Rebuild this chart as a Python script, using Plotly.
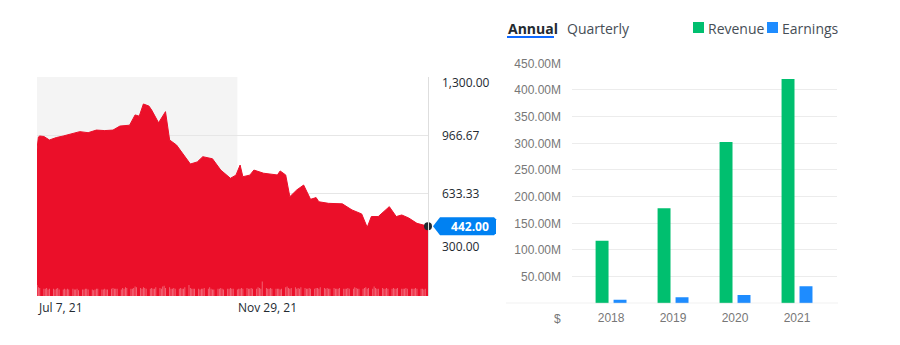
import plotly.graph_objects as go
import pandas as pd

# ---------------- data: price chart ----------------
price_dates = ["2021-07-07", "2021-07-08", "2021-07-09", "2021-07-12", "2021-07-16", "2021-07-21",
               "2021-07-26", "2021-07-31", "2021-08-07", "2021-08-13", "2021-08-19", "2021-08-25",
               "2021-08-31", "2021-09-05", "2021-09-12", "2021-09-16", "2021-09-19", "2021-09-22",
               "2021-09-26", "2021-09-28", "2021-10-03", "2021-10-08", "2021-10-11", "2021-10-16",
               "2021-10-22", "2021-10-26", "2021-10-31", "2021-11-04", "2021-11-11", "2021-11-17",
               "2021-11-24", "2021-11-28", "2021-12-01", "2021-12-03", "2021-12-08", "2021-12-11",
               "2021-12-18", "2021-12-28", "2021-12-30", "2022-01-03", "2022-01-06", "2022-01-11",
               "2022-01-16", "2022-01-21", "2022-01-25", "2022-01-27", "2022-02-03", "2022-02-13",
               "2022-02-20", "2022-02-27", "2022-03-03", "2022-03-06", "2022-03-11", "2022-03-19",
               "2022-03-24", "2022-03-28", "2022-04-02", "2022-04-08", "2022-04-16"]
prices = [885, 955, 961, 958, 938, 952, 961, 970, 986, 980,
          995, 992, 995, 1018, 1023, 1082, 1075, 1145, 1133, 1110,
          1037, 1101, 938, 909, 842, 800, 812, 842, 830, 765,
          718, 736, 794, 727, 736, 765, 747, 737, 760, 737,
          612, 651, 679, 597, 607, 583, 574, 571, 536, 513,
          436, 498, 498, 555, 498, 507, 490, 459, 442]

volume_start = "2021-07-07"
volume = [1.5, 1.2, 1.1, 1.0, 1.0, 1.1, 0.9, 1.0, 1.0, 0.9, 1.0, 1.1, 0.9, 0.9, 1.0, 0.9, 1.0, 0.9,
          1.0, 0.9, 0.9, 1.0, 0.8, 0.9, 0.9, 1.0, 1.0, 0.9, 0.9, 0.8, 0.9, 1.0, 1.0, 0.9, 0.9, 1.0, 0.9, 0.9, 1.0, 1.1,
          1.0, 1.0, 1.0, 0.9, 1.1, 1.0, 1.2, 1.1, 1.0, 1.0, 1.1, 1.3, 1.2, 1.1, 1.0, 1.2, 1.1, 1.0, 1.0, 1.1, 1.0, 1.0,
          1.2, 1.1, 1.0, 1.3, 1.4, 1.1, 1.2, 1.0, 1.0, 1.1, 1.0, 1.0, 1.1, 1.0, 1.0, 1.2, 1.5, 1.1, 1.0, 1.0, 1.0,
          1.0, 0.9, 1.0, 1.0, 1.1, 1.0, 1.2, 1.0, 0.9, 0.9, 1.0, 1.0, 1.1, 1.0, 0.9, 1.0, 1.0, 1.1, 1.0, 1.0, 0.9, 1.0,
          1.0, 1.1, 1.0, 1.1, 1.0, 1.0, 1.1, 1.0, 1.0, 1.2, 1.1, 1.0, 2.0, 1.1, 1.0, 1.0, 1.1, 1.0, 1.0, 1.0, 1.0, 0.9, 1.0,
          1.2, 1.3, 1.1, 1.0, 1.1, 1.2, 1.0, 1.1, 1.0, 1.2, 1.1, 1.0, 1.0, 1.1, 1.0, 1.0, 1.1, 1.1, 1.0, 1.2, 1.1,
          1.0, 1.1, 1.0, 1.0, 1.1, 1.0, 1.0, 1.0, 1.1, 1.0, 1.0, 1.0, 1.1, 1.0, 1.0, 1.2, 1.1, 1.0, 1.0, 1.0,
          1.1, 1.2, 1.0, 1.1, 1.0, 1.3, 1.1, 1.0, 1.0, 1.1, 1.0, 1.0, 1.1, 1.0, 1.0, 1.1, 1.0, 1.0, 1.1, 1.0, 1.0, 1.0, 1.1,
          1.0, 1.0, 1.0, 1.0, 1.1, 1.0, 1.0, 1.0, 0.9, 1.0]
volume_dates = pd.bdate_range(start=volume_start, periods=len(volume))

price_tick_vals = [300, 633.33, 966.67, 1300]
price_tick_text = ["300.00", "633.33", "966.67", "1,300.00"]
price_label_shift = [5, 0, 0, -6]
date_tick_vals = ["2021-07-07", "2021-11-29"]
date_tick_text = ["Jul 7, 21", "Nov 29, 21"]
shade_range = ["2021-07-07", "2021-11-29"]
x_range = ["2021-07-07", "2022-04-16"]
y_range = [41.4, 1300]

# ---------------- data: revenue / earnings ----------------
years = ["2018", "2019", "2020", "2021"]
revenue = [117.4, 178.1, 302.4, 420.6]   # millions
earnings = [6.5, 11.2, 15.6, 32.0]       # millions
fin_tick_vals = [50, 100, 150, 200, 250, 300, 350, 400, 450]
fin_tick_text = ["50.00M", "100.00M", "150.00M", "200.00M", "250.00M",
                 "300.00M", "350.00M", "400.00M", "450.00M"]
series_names = ["Revenue", "Earnings"]
series_colors = ["#00bf6f", "#1e8cff"]
tabs = ["Annual", "Quarterly"]

RED = "#eb0f29"
W, H = 900, 345
px = lambda x: x / W
py = lambda y: (H - y) / H

xdom1 = [px(37), px(428)]
ydom1 = [py(296), py(77)]
xdom2 = [px(572), px(837)]
ydom2 = [py(303.3), py(63.3)]

fig = go.Figure()

fig.add_trace(go.Scatter(x=price_dates, y=prices, mode="lines", fill="tozeroy",
                         line=dict(color=RED, width=1), fillcolor=RED,
                         xaxis="x", yaxis="y", showlegend=False, hoverinfo="skip"))
fig.add_trace(go.Bar(x=volume_dates, y=volume, width=86400000 * 0.6,
                     marker=dict(color="rgba(255,255,255,0.42)", line=dict(width=0)),
                     xaxis="x", yaxis="y3", showlegend=False, hoverinfo="skip"))
fig.add_trace(go.Scatter(x=[price_dates[-1]], y=[prices[-1]], mode="markers",
                         marker=dict(color="#232a31", size=8), cliponaxis=False,
                         xaxis="x", yaxis="y", showlegend=False, hoverinfo="skip"))

fig.add_trace(go.Bar(x=years, y=revenue, name=series_names[0],
                     marker=dict(color=series_colors[0], line=dict(width=0)),
                     xaxis="x2", yaxis="y2", showlegend=False))
fig.add_trace(go.Bar(x=years, y=earnings, name=series_names[1],
                     marker=dict(color=series_colors[1], line=dict(width=0)),
                     xaxis="x2", yaxis="y2", showlegend=False))

shapes = []
annotations = []

# shaded previous period
shapes.append(dict(type="rect", xref="x", yref="y domain", x0=shade_range[0], x1=shade_range[1],
                   y0=0, y1=1, fillcolor="#f4f4f4", line=dict(width=0), layer="below"))

# price y labels
for v, t, s in zip(price_tick_vals, price_tick_text, price_label_shift):
    annotations.append(dict(xref="paper", yref="y", x=xdom1[1], y=v, xanchor="left", yanchor="middle",
                            xshift=12, yshift=s, text=t, showarrow=False,
                            font=dict(family="Open Sans", size=12, color="#232a31")))
# date labels
for d, t in zip(date_tick_vals, date_tick_text):
    annotations.append(dict(xref="x", yref="paper", x=d, y=py(307), xanchor="left", yanchor="middle",
                            xshift=-1, text=t, showarrow=False,
                            font=dict(family="Open Sans", size=12, color="#232a31")))

# current price tag
yfrac = ydom1[0] + (prices[-1] - y_range[0]) / (y_range[1] - y_range[0]) * (ydom1[1] - ydom1[0])
shapes.append(dict(type="path", xref="paper", yref="paper", xsizemode="pixel", ysizemode="pixel",
                   xanchor=xdom1[1], yanchor=yfrac,
                   path="M 5 0 L 12 9 L 66 9 L 68 7 L 68 -7 L 66 -9 L 12 -9 Z",
                   fillcolor="#0081f2", line=dict(width=0)))
annotations.append(dict(xref="paper", yref="paper", x=xdom1[1], y=yfrac, xanchor="left", yanchor="middle",
                        xshift=12, width=56, align="center", text="<b>%.2f</b>" % prices[-1],
                        showarrow=False, font=dict(family="Open Sans", size=12, color="white")))

# financial chart baseline
shapes.append(dict(type="line", xref="paper", yref="y2", x0=px(506), x1=px(838), y0=0, y1=0,
                   line=dict(color="#d9d9d9", width=1)))
annotations.append(dict(xref="paper", yref="paper", x=px(557), y=py(318.5), xanchor="center",
                        yanchor="middle", text="$", showarrow=False,
                        font=dict(family="Liberation Sans", size=12, color="#777777")))

# tabs
annotations.append(dict(xref="paper", yref="paper", x=px(506), y=py(28), xanchor="left", yanchor="middle",
                        text="<b>%s</b>" % tabs[0], showarrow=False,
                        font=dict(family="Open Sans", size=14, color="#232a31")))
annotations.append(dict(xref="paper", yref="paper", x=px(565), y=py(28), xanchor="left", yanchor="middle",
                        text=tabs[1], showarrow=False,
                        font=dict(family="Open Sans", size=14, color="#464e56")))
shapes.append(dict(type="line", xref="paper", yref="paper", x0=px(507), x1=px(554),
                   y0=py(37), y1=py(37), line=dict(color="#0f69ff", width=2)))

# custom legend
for name, col, sx in zip(series_names, series_colors, [693, 767]):
    shapes.append(dict(type="rect", xref="paper", yref="paper", x0=px(sx), x1=px(sx + 11),
                       y0=py(33), y1=py(22), fillcolor=col, line=dict(width=0)))
    annotations.append(dict(xref="paper", yref="paper", x=px(sx + 13), y=py(28), xanchor="left",
                            yanchor="middle", text=name, showarrow=False,
                            font=dict(family="Open Sans", size=14, color="#464e56")))

fig.update_layout(
    width=W, height=H, margin=dict(l=0, r=0, t=0, b=0, pad=0, autoexpand=False),
    paper_bgcolor="white", plot_bgcolor="rgba(0,0,0,0)", showlegend=False,
    barmode="group", bargap=0.42, bargroupgap=0.28,
    xaxis=dict(domain=xdom1, anchor="y", type="date", range=x_range, showgrid=False,
               showticklabels=False, zeroline=False, showline=False, ticks="", automargin=False),
    yaxis=dict(domain=ydom1, anchor="x", side="right", range=y_range, tickvals=price_tick_vals,
               showticklabels=False, showgrid=True, gridcolor="#e6e6e6", gridwidth=1,
               zeroline=False, showline=True, linecolor="#dedede", linewidth=1, ticks="",
               automargin=False),
    yaxis3=dict(overlaying="y", anchor="x", range=[0, 30], visible=False),
    xaxis2=dict(domain=xdom2, anchor="y2", type="category", range=[-0.63, 3.645],
                showgrid=False, zeroline=False, showline=False, ticks="", automargin=False,
                tickfont=dict(family="Liberation Sans", size=12, color="#777777"),
                ticklabelstandoff=6),
    yaxis2=dict(domain=ydom2, anchor="x2", range=[0, 450], tickvals=fin_tick_vals,
                ticktext=fin_tick_text, showgrid=True, gridcolor="#ececec", gridwidth=1,
                zeroline=False, showline=False, ticks="", automargin=False,
                tickfont=dict(family="Liberation Sans", size=12, color="#777777"),
                ticklabelstandoff=10),
    shapes=shapes, annotations=annotations,
)

fig.write_html("out.html")
